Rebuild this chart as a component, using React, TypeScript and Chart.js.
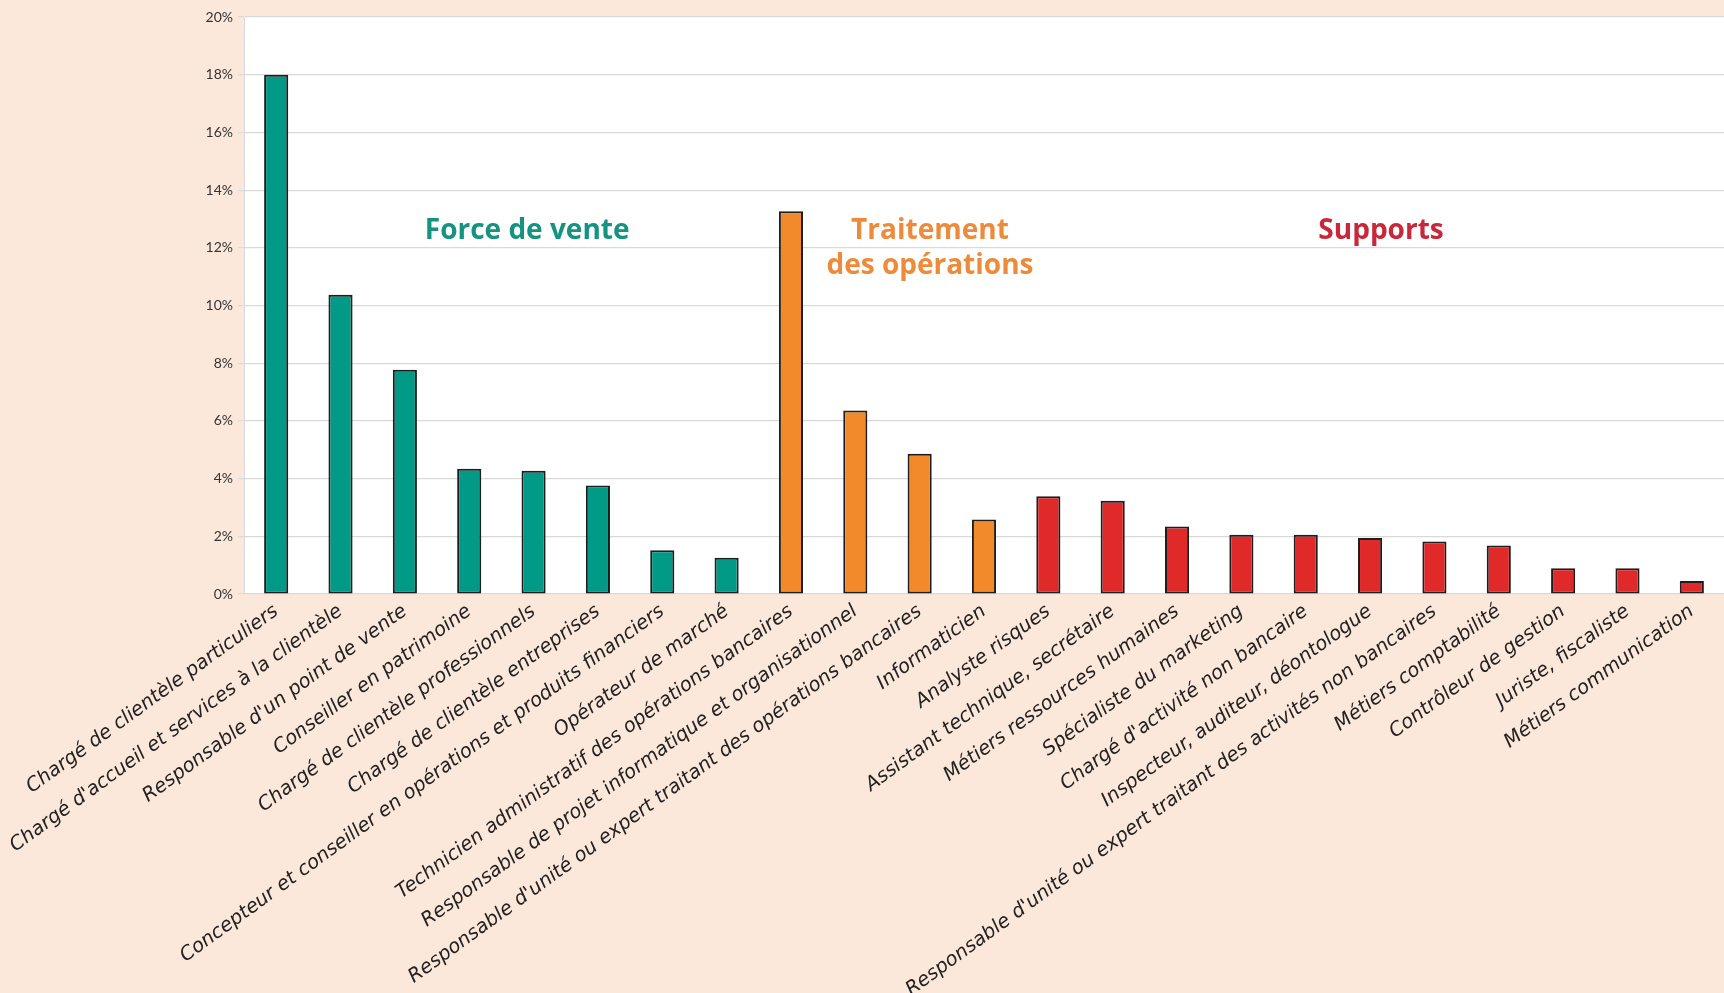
import React, { useEffect, useRef } from "react";
import { Chart, registerables } from "chart.js";

Chart.register(...registerables);

const categories: string[] = [
  "Chargé de clientèle particuliers",
  "Chargé d'accueil et services à la clientèle",
  "Responsable d'un point de vente",
  "Conseiller en patrimoine",
  "Chargé de clientèle professionnels",
  "Chargé de clientèle entreprises",
  "Concepteur et conseiller en opérations et produits financiers",
  "Opérateur de marché",
  "Technicien administratif des opérations bancaires",
  "Responsable de projet informatique et organisationnel",
  "Responsable d'unité ou expert traitant des opérations bancaires",
  "Informaticien",
  "Analyste risques",
  "Assistant technique, secrétaire",
  "Métiers ressources humaines",
  "Spécialiste du marketing",
  "Chargé d'activité non bancaire",
  "Inspecteur, auditeur, déontologue",
  "Responsable d'unité ou expert traitant des activités non bancaires",
  "Métiers comptabilité",
  "Contrôleur de gestion",
  "Juriste, fiscaliste",
  "Métiers communication",
];

const values: number[] = [
  18.0, 10.37, 7.77, 4.34, 4.27, 3.76, 1.52, 1.26,
  13.27, 6.36, 4.86, 2.58,
  3.39, 3.23, 2.34, 2.05, 2.05, 1.94, 1.82, 1.68, 0.89, 0.89, 0.45,
];

// 0 = Force de vente, 1 = Traitement des opérations, 2 = Supports
const groups: number[] = [
  0, 0, 0, 0, 0, 0, 0, 0,
  1, 1, 1, 1,
  2, 2, 2, 2, 2, 2, 2, 2, 2, 2, 2,
];

const groupNames: string[][] = [["Force de vente"], ["Traitement", "des opérations"], ["Supports"]];
const barColors: string[] = ["#009A86", "#F28A2B", "#E02A2A"];
const textColors: string[] = ["#149380", "#EE8B3A", "#C9283B"];
// anchor (category index, value %) for each group title
const groupAnchorIndex: number[] = [3.9, 10.16, 17.17];
const groupAnchorValue: number[] = [12.58, 12.58, 12.58];

const yTicks: number[] = [0, 2, 4, 6, 8, 10, 12, 14, 16, 18, 20];

const PAGE_BG = "#FCE8DA";

export default function App() {
  const canvasRef = useRef<HTMLCanvasElement | null>(null);

  useEffect(() => {
    document.body.style.margin = "0";
    document.body.style.overflow = "hidden";
    const canvas = canvasRef.current;
    if (!canvas) return;

    const bgPlugin = {
      id: "bgPlugin",
      beforeDraw(chart: any) {
        const { ctx, chartArea } = chart;
        ctx.save();
        ctx.fillStyle = PAGE_BG;
        ctx.fillRect(0, 0, chart.width, chart.height);
        ctx.fillStyle = "#FFFFFF";
        ctx.fillRect(chartArea.left, chartArea.top, chartArea.right - chartArea.left, chartArea.bottom - chartArea.top);
        ctx.restore();
      },
    };

    const groupLabelPlugin = {
      id: "groupLabels",
      afterDatasetsDraw(chart: any) {
        const { ctx, scales } = chart;
        ctx.save();
        ctx.font = "bold 28px 'Open Sans', sans-serif";
        ctx.textAlign = "center";
        ctx.textBaseline = "middle";
        groupNames.forEach((lines, g) => {
          const x = scales.x.getPixelForValue(groupAnchorIndex[g]);
          const y = scales.y.getPixelForValue(groupAnchorValue[g]);
          ctx.fillStyle = textColors[g];
          lines.forEach((line, i) => {
            ctx.fillText(line, x, y + i * 35);
          });
        });
        ctx.restore();
      },
    };

    const chart = new Chart(canvas, {
      type: "bar",
      data: {
        labels: categories,
        datasets: [
          {
            data: values,
            backgroundColor: groups.map((g) => barColors[g]),
            borderColor: "#1E1E1E",
            borderWidth: 2,
            borderSkipped: false,
            barPercentage: 0.375,
            categoryPercentage: 1,
          },
        ],
      },
      options: {
        animation: false,
        responsive: true,
        maintainAspectRatio: false,
        layout: { padding: { top: 17, left: 0, right: 0, bottom: 0 } },
        plugins: {
          legend: { display: false },
          tooltip: { enabled: false },
        },
        scales: {
          x: {
            grid: { display: false, drawTicks: false },
            border: { display: false },
            ticks: {
              autoSkip: false,
              minRotation: 36,
              maxRotation: 36,
              padding: 6,
              color: "#222222",
              font: { family: "'DejaVu Sans', sans-serif", size: 19.5, style: "italic" },
            },
            afterFit(scale: any) {
              scale.height = 399;
            },
          },
          y: {
            min: 0,
            max: 20,
            afterBuildTicks(scale: any) {
              scale.ticks = yTicks.map((v) => ({ value: v }));
            },
            grid: { color: "#D9D9D9", lineWidth: 1.2, drawTicks: true, tickLength: 6 },
            border: { display: true, color: "#D9D9D9" },
            ticks: {
              padding: 5,
              color: "#333333",
              font: { family: "Lato, sans-serif", size: 14 },
              callback: (v: any) => `${v}%`,
            },
            afterFit(scale: any) {
              scale.width = 244;
            },
          },
        },
      },
      plugins: [bgPlugin, groupLabelPlugin],
    });

    return () => chart.destroy();
  }, []);

  return (
    <div style={{ position: "absolute", left: 0, top: 0, width: 1724, height: 993, background: PAGE_BG }}>
      <canvas ref={canvasRef} />
    </div>
  );
}
